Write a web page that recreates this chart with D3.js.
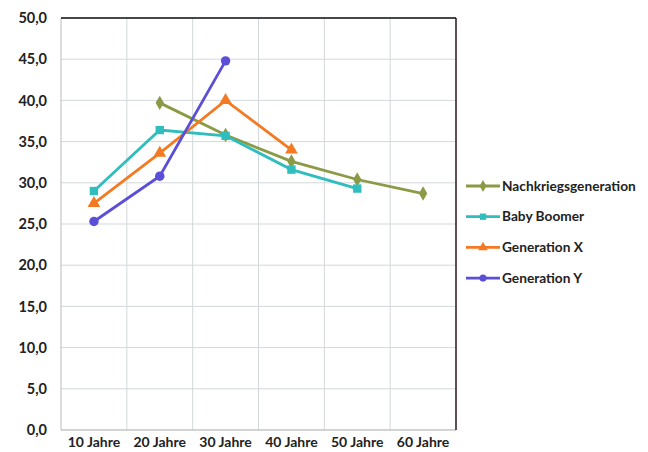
<!DOCTYPE html>
<html><head><meta charset="utf-8">
<script src="https://cdn.jsdelivr.net/npm/d3@7"></script>
<style>body{margin:0;background:#fff}svg{display:block}text{font-family:Lato,"Open Sans",sans-serif;font-weight:bold;fill:#222}</style>
</head><body><svg width="648" height="452"></svg>
<script>
const categories = ["10 Jahre","20 Jahre","30 Jahre","40 Jahre","50 Jahre","60 Jahre"];
const seriesNames = ["Nachkriegsgeneration","Baby Boomer","Generation X","Generation Y"];
const nachkrieg = [null, 39.7, 35.8, 32.6, 30.4, 28.7];
const babyBoomer = [29.0, 36.4, 35.7, 31.6, 29.3, null];
const genX = [27.5, 33.6, 40.0, 34.0, null, null];
const genY = [25.3, 30.8, 44.8, null, null, null];
const yTicks = [0,5,10,15,20,25,30,35,40,45,50];
const colors = ["#8b9a45","#2fbdbd","#f37a22","#5a4fd6"];
const symbols = [d3.symbolDiamond, d3.symbolSquare, d3.symbolTriangle, d3.symbolCircle];
const allSeries = [nachkrieg, babyBoomer, genX, genY];

const svg = d3.select("svg");
const L=61, R=456, T=18, B=430;
const x = d3.scaleBand().domain(categories).range([L,R]);
const y = d3.scaleLinear().domain([0,50]).range([B,T]);
const cx = c => x(c)+x.bandwidth()/2;

svg.append("g").selectAll("line").data(yTicks).join("line")
  .attr("x1",L).attr("x2",R).attr("y1",d=>y(d)).attr("y2",d=>y(d))
  .attr("stroke","#d3d8da").attr("stroke-width",1);
svg.append("g").selectAll("line").data(categories.slice(1)).join("line")
  .attr("x1",d=>x(d)).attr("x2",d=>x(d)).attr("y1",T).attr("y2",B)
  .attr("stroke","#d3d8da").attr("stroke-width",1);
svg.append("line").attr("x1",L).attr("x2",L).attr("y1",T).attr("y2",B).attr("stroke","#bbb");
svg.append("line").attr("x1",L).attr("x2",R).attr("y1",B).attr("y2",B).attr("stroke","#bbb");
svg.append("line").attr("x1",L).attr("x2",R).attr("y1",T).attr("y2",T).attr("stroke","#111").attr("stroke-width",1.5);
svg.append("line").attr("x1",R).attr("x2",R).attr("y1",T).attr("y2",B).attr("stroke","#2a1418").attr("stroke-width",1.5);

const yAxis = d3.axisLeft(y).tickValues(yTicks).tickSize(0).tickPadding(14)
  .tickFormat(d=>d3.format(".1f")(d).replace(".",","));
const gy = svg.append("g").attr("transform",`translate(${L},0)`).call(yAxis);
gy.select(".domain").remove();
gy.selectAll("text").style("font-size","14.5px");
const xAxis = d3.axisBottom(x).tickSize(0).tickPadding(7);
const gx = svg.append("g").attr("transform",`translate(0,${B})`).call(xAxis);
gx.select(".domain").remove();
gx.selectAll("text").style("font-size","14px");

const line = d3.line().defined(d=>d.v!=null).x(d=>cx(d.c)).y(d=>y(d.v));
allSeries.forEach((s,i)=>{
  const pts = s.map((v,j)=>({c:categories[j],v}));
  svg.append("path").datum(pts).attr("d",line).attr("fill","none")
    .attr("stroke",colors[i]).attr("stroke-width",2.8);
  svg.append("g").selectAll("path").data(pts.filter(d=>d.v!=null)).join("path")
    .attr("transform",d=>`translate(${cx(d.c)},${y(d.v)})`)
    .attr("d",d3.symbol().type(symbols[i]).size(i===0?60:70))
    .attr("fill",colors[i]);
});

const lg = svg.append("g");
seriesNames.forEach((n,i)=>{
  const yy = 186 + i*30.7;
  lg.append("line").attr("x1",466).attr("x2",500).attr("y1",yy).attr("y2",yy)
    .attr("stroke",colors[i]).attr("stroke-width",2.8);
  lg.append("path").attr("transform",`translate(483,${yy})`)
    .attr("d",d3.symbol().type(symbols[i]).size(40)).attr("fill",colors[i]);
  lg.append("text").attr("x",502).attr("y",yy).attr("dy","0.35em")
    .style("font-size","13.7px").text(n);
});
</script></body></html>
